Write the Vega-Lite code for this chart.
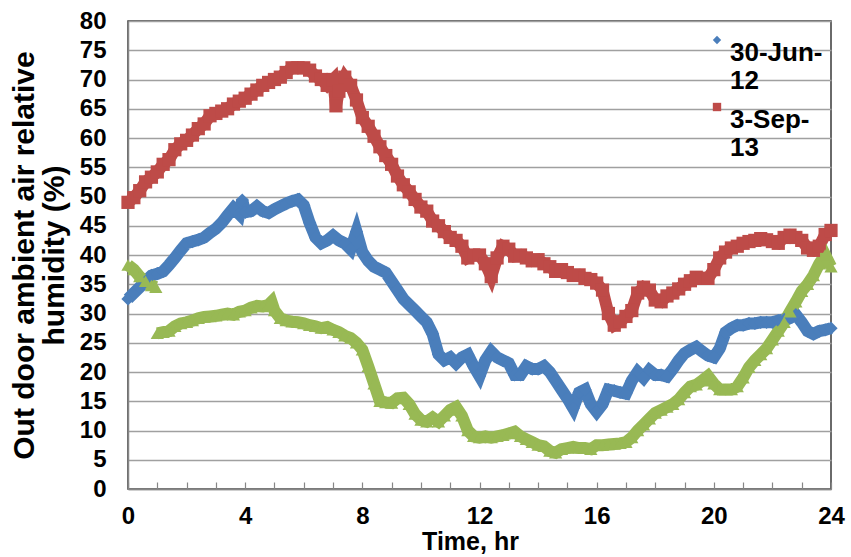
{
  "$schema": "https://vega.github.io/schema/vega-lite/v6.json",
  "autosize": {"type": "none"},
  "padding": {"left": 128, "top": 21, "right": 20, "bottom": 68},
  "width": 703,
  "height": 468,
  "background": "white",
  "config": {
    "font": "Liberation Sans",
    "view": {"stroke": "#3a3a3a", "strokeWidth": 1.5},
    "legend": {"rowPadding": -10}
  },
  "datasets": {
    "rh": [
      {"s":"S","t":0.0,"rh":49.0},{"s":"S","t":0.2,"rh":49.8},{"s":"S","t":0.4,"rh":51.0},{"s":"S","t":0.6,"rh":52.5},{"s":"S","t":0.8,"rh":53.3},
      {"s":"S","t":1.0,"rh":54.2},{"s":"S","t":1.2,"rh":55.5},{"s":"S","t":1.4,"rh":56.3},{"s":"S","t":1.6,"rh":58.0},{"s":"S","t":1.8,"rh":59.0},
      {"s":"S","t":2.0,"rh":59.6},{"s":"S","t":2.2,"rh":60.5},{"s":"S","t":2.4,"rh":61.6},{"s":"S","t":2.6,"rh":62.4},{"s":"S","t":2.8,"rh":63.8},
      {"s":"S","t":3.0,"rh":64.2},{"s":"S","t":3.2,"rh":64.6},{"s":"S","t":3.4,"rh":65.0},{"s":"S","t":3.6,"rh":65.8},{"s":"S","t":3.8,"rh":66.3},
      {"s":"S","t":4.0,"rh":66.8},{"s":"S","t":4.2,"rh":67.5},{"s":"S","t":4.4,"rh":68.2},{"s":"S","t":4.6,"rh":69.0},{"s":"S","t":4.8,"rh":69.5},
      {"s":"S","t":5.0,"rh":70.0},{"s":"S","t":5.2,"rh":70.4},{"s":"S","t":5.4,"rh":71.2},{"s":"S","t":5.6,"rh":72.0},{"s":"S","t":5.8,"rh":72.0},
      {"s":"S","t":6.0,"rh":72.0},{"s":"S","t":6.2,"rh":71.6},{"s":"S","t":6.4,"rh":70.6},{"s":"S","t":6.6,"rh":70.0},{"s":"S","t":6.8,"rh":69.0},
      {"s":"S","t":7.0,"rh":70.0},{"s":"S","t":7.1,"rh":65.5},{"s":"S","t":7.2,"rh":68.0},{"s":"S","t":7.4,"rh":70.4},{"s":"S","t":7.6,"rh":69.0},{"s":"S","t":7.8,"rh":66.5},
      {"s":"S","t":8.0,"rh":63.5},{"s":"S","t":8.2,"rh":62.0},{"s":"S","t":8.4,"rh":60.3},{"s":"S","t":8.6,"rh":58.5},{"s":"S","t":8.8,"rh":57.0},
      {"s":"S","t":9.0,"rh":55.5},{"s":"S","t":9.2,"rh":53.5},{"s":"S","t":9.4,"rh":52.0},{"s":"S","t":9.6,"rh":50.8},{"s":"S","t":9.8,"rh":49.5},
      {"s":"S","t":10.0,"rh":48.2},{"s":"S","t":10.2,"rh":47.5},{"s":"S","t":10.4,"rh":45.8},{"s":"S","t":10.6,"rh":45.0},{"s":"S","t":10.8,"rh":44.0},
      {"s":"S","t":11.0,"rh":43.0},{"s":"S","t":11.2,"rh":42.5},{"s":"S","t":11.4,"rh":41.5},{"s":"S","t":11.6,"rh":39.5},{"s":"S","t":11.8,"rh":40.0},
      {"s":"S","t":12.0,"rh":40.0},{"s":"S","t":12.2,"rh":38.5},{"s":"S","t":12.4,"rh":36.3},{"s":"S","t":12.6,"rh":39.5},{"s":"S","t":12.8,"rh":41.5},
      {"s":"S","t":13.0,"rh":41.0},{"s":"S","t":13.2,"rh":39.8},{"s":"S","t":13.4,"rh":40.0},{"s":"S","t":13.6,"rh":39.5},{"s":"S","t":13.8,"rh":39.0},
      {"s":"S","t":14.0,"rh":39.2},{"s":"S","t":14.2,"rh":38.5},{"s":"S","t":14.4,"rh":38.0},{"s":"S","t":14.6,"rh":37.2},{"s":"S","t":14.8,"rh":37.5},
      {"s":"S","t":15.0,"rh":37.0},{"s":"S","t":15.2,"rh":36.5},{"s":"S","t":15.4,"rh":36.6},{"s":"S","t":15.6,"rh":36.0},{"s":"S","t":15.8,"rh":35.8},
      {"s":"S","t":16.0,"rh":35.2},{"s":"S","t":16.2,"rh":34.0},{"s":"S","t":16.4,"rh":30.0},{"s":"S","t":16.6,"rh":28.0},{"s":"S","t":16.8,"rh":28.6},
      {"s":"S","t":17.0,"rh":29.5},{"s":"S","t":17.2,"rh":30.5},{"s":"S","t":17.4,"rh":33.5},{"s":"S","t":17.6,"rh":34.5},{"s":"S","t":17.8,"rh":34.0},
      {"s":"S","t":18.0,"rh":32.3},{"s":"S","t":18.2,"rh":32.0},{"s":"S","t":18.4,"rh":33.0},{"s":"S","t":18.6,"rh":33.5},{"s":"S","t":18.8,"rh":34.2},
      {"s":"S","t":19.0,"rh":35.0},{"s":"S","t":19.2,"rh":35.6},{"s":"S","t":19.4,"rh":36.2},{"s":"S","t":19.6,"rh":36.0},{"s":"S","t":19.8,"rh":36.0},
      {"s":"S","t":20.0,"rh":37.5},{"s":"S","t":20.2,"rh":39.5},{"s":"S","t":20.4,"rh":40.5},{"s":"S","t":20.6,"rh":41.2},{"s":"S","t":20.8,"rh":41.5},
      {"s":"S","t":21.0,"rh":42.0},{"s":"S","t":21.2,"rh":42.3},{"s":"S","t":21.4,"rh":42.5},{"s":"S","t":21.6,"rh":42.8},{"s":"S","t":21.8,"rh":42.6},
      {"s":"S","t":22.0,"rh":42.3},{"s":"S","t":22.2,"rh":42.0},{"s":"S","t":22.4,"rh":43.0},{"s":"S","t":22.6,"rh":43.4},{"s":"S","t":22.8,"rh":43.0},
      {"s":"S","t":23.0,"rh":42.5},{"s":"S","t":23.2,"rh":41.2},{"s":"S","t":23.4,"rh":40.8},{"s":"S","t":23.6,"rh":41.5},{"s":"S","t":23.8,"rh":43.5},
      {"s":"S","t":24.0,"rh":44.2},

      {"s":"J","t":0.0,"rh":32.5},{"s":"J","t":0.2,"rh":33.5},{"s":"J","t":0.4,"rh":34.5},{"s":"J","t":0.6,"rh":35.5},{"s":"J","t":0.8,"rh":36.5},
      {"s":"J","t":1.0,"rh":36.8},{"s":"J","t":1.2,"rh":37.2},{"s":"J","t":1.4,"rh":38.3},{"s":"J","t":1.6,"rh":39.5},{"s":"J","t":1.8,"rh":40.8},
      {"s":"J","t":2.0,"rh":42.0},{"s":"J","t":2.2,"rh":42.3},{"s":"J","t":2.4,"rh":42.6},{"s":"J","t":2.6,"rh":43.0},{"s":"J","t":2.8,"rh":43.8},
      {"s":"J","t":3.0,"rh":44.5},{"s":"J","t":3.2,"rh":45.5},{"s":"J","t":3.4,"rh":46.8},{"s":"J","t":3.6,"rh":48.0},{"s":"J","t":3.8,"rh":47.0},
      {"s":"J","t":3.9,"rh":49.4},{"s":"J","t":4.0,"rh":47.3},{"s":"J","t":4.2,"rh":47.5},{"s":"J","t":4.4,"rh":48.3},{"s":"J","t":4.6,"rh":47.5},{"s":"J","t":4.8,"rh":47.2},
      {"s":"J","t":5.0,"rh":47.8},{"s":"J","t":5.2,"rh":48.3},{"s":"J","t":5.4,"rh":48.8},{"s":"J","t":5.6,"rh":49.2},{"s":"J","t":5.8,"rh":49.5},
      {"s":"J","t":6.0,"rh":48.5},{"s":"J","t":6.2,"rh":45.5},{"s":"J","t":6.4,"rh":43.0},{"s":"J","t":6.6,"rh":42.0},{"s":"J","t":6.8,"rh":42.5},
      {"s":"J","t":7.0,"rh":43.3},{"s":"J","t":7.2,"rh":42.5},{"s":"J","t":7.4,"rh":42.0},{"s":"J","t":7.6,"rh":41.0},{"s":"J","t":7.8,"rh":44.0},
      {"s":"J","t":8.0,"rh":40.5},{"s":"J","t":8.2,"rh":39.0},{"s":"J","t":8.4,"rh":38.0},{"s":"J","t":8.6,"rh":37.5},{"s":"J","t":8.8,"rh":37.0},
      {"s":"J","t":9.0,"rh":35.5},{"s":"J","t":9.2,"rh":34.0},{"s":"J","t":9.4,"rh":32.5},{"s":"J","t":9.6,"rh":31.5},{"s":"J","t":9.8,"rh":30.5},
      {"s":"J","t":10.0,"rh":29.5},{"s":"J","t":10.2,"rh":28.5},{"s":"J","t":10.4,"rh":26.5},{"s":"J","t":10.6,"rh":23.0},{"s":"J","t":10.8,"rh":22.0},
      {"s":"J","t":11.0,"rh":22.5},{"s":"J","t":11.2,"rh":21.5},{"s":"J","t":11.4,"rh":22.5},{"s":"J","t":11.6,"rh":23.0},{"s":"J","t":11.8,"rh":21.0},
      {"s":"J","t":12.0,"rh":19.3},{"s":"J","t":12.2,"rh":22.0},{"s":"J","t":12.4,"rh":23.5},{"s":"J","t":12.6,"rh":22.5},{"s":"J","t":12.8,"rh":22.0},
      {"s":"J","t":13.0,"rh":21.5},{"s":"J","t":13.2,"rh":19.5},{"s":"J","t":13.4,"rh":19.5},{"s":"J","t":13.6,"rh":21.0},{"s":"J","t":13.8,"rh":20.5},
      {"s":"J","t":14.0,"rh":20.5},{"s":"J","t":14.2,"rh":21.0},{"s":"J","t":14.4,"rh":20.0},{"s":"J","t":14.6,"rh":18.5},{"s":"J","t":14.8,"rh":17.0},
      {"s":"J","t":15.0,"rh":15.5},{"s":"J","t":15.2,"rh":13.8},{"s":"J","t":15.4,"rh":16.5},{"s":"J","t":15.6,"rh":17.0},{"s":"J","t":15.8,"rh":14.5},
      {"s":"J","t":16.0,"rh":13.2},{"s":"J","t":16.2,"rh":14.5},{"s":"J","t":16.4,"rh":17.0},{"s":"J","t":16.6,"rh":16.8},{"s":"J","t":16.8,"rh":16.5},
      {"s":"J","t":17.0,"rh":16.3},{"s":"J","t":17.2,"rh":18.5},{"s":"J","t":17.4,"rh":20.0},{"s":"J","t":17.6,"rh":19.0},{"s":"J","t":17.8,"rh":20.3},
      {"s":"J","t":18.0,"rh":19.5},{"s":"J","t":18.2,"rh":19.5},{"s":"J","t":18.4,"rh":19.2},{"s":"J","t":18.6,"rh":20.5},{"s":"J","t":18.8,"rh":22.0},
      {"s":"J","t":19.0,"rh":23.2},{"s":"J","t":19.2,"rh":23.8},{"s":"J","t":19.4,"rh":24.3},{"s":"J","t":19.6,"rh":23.5},{"s":"J","t":19.8,"rh":22.8},
      {"s":"J","t":20.0,"rh":22.5},{"s":"J","t":20.2,"rh":24.0},{"s":"J","t":20.4,"rh":26.8},{"s":"J","t":20.6,"rh":27.5},{"s":"J","t":20.8,"rh":28.0},
      {"s":"J","t":21.0,"rh":28.0},{"s":"J","t":21.2,"rh":28.3},{"s":"J","t":21.4,"rh":28.3},{"s":"J","t":21.6,"rh":28.5},{"s":"J","t":21.8,"rh":28.5},
      {"s":"J","t":22.0,"rh":28.5},{"s":"J","t":22.2,"rh":28.8},{"s":"J","t":22.4,"rh":29.0},{"s":"J","t":22.6,"rh":29.2},{"s":"J","t":22.8,"rh":29.8},
      {"s":"J","t":23.0,"rh":28.5},{"s":"J","t":23.2,"rh":27.0},{"s":"J","t":23.4,"rh":26.5},{"s":"J","t":23.6,"rh":27.0},{"s":"J","t":23.8,"rh":27.2},
      {"s":"J","t":24.0,"rh":27.5},

      {"s":"G","g":"a","t":0.0,"rh":38.3},{"s":"G","g":"a","t":0.2,"rh":37.5},{"s":"G","g":"a","t":0.4,"rh":36.3},{"s":"G","g":"a","t":0.6,"rh":35.5},{"s":"G","g":"a","t":0.8,"rh":34.8},{"s":"G","g":"a","t":0.95,"rh":34.5},
      {"s":"G","g":"b","t":1.0,"rh":26.6},{"s":"G","g":"b","t":1.2,"rh":26.8},{"s":"G","g":"b","t":1.4,"rh":27.0},{"s":"G","g":"b","t":1.6,"rh":27.8},{"s":"G","g":"b","t":1.8,"rh":28.3},
      {"s":"G","g":"b","t":2.0,"rh":28.5},{"s":"G","g":"b","t":2.2,"rh":28.8},{"s":"G","g":"b","t":2.4,"rh":29.2},{"s":"G","g":"b","t":2.6,"rh":29.4},{"s":"G","g":"b","t":2.8,"rh":29.5},
      {"s":"G","g":"b","t":3.0,"rh":29.6},{"s":"G","g":"b","t":3.2,"rh":29.8},{"s":"G","g":"b","t":3.4,"rh":30.0},{"s":"G","g":"b","t":3.6,"rh":29.8},{"s":"G","g":"b","t":3.8,"rh":30.3},
      {"s":"G","g":"b","t":4.0,"rh":30.5},{"s":"G","g":"b","t":4.2,"rh":31.0},{"s":"G","g":"b","t":4.4,"rh":31.3},{"s":"G","g":"b","t":4.6,"rh":31.2},{"s":"G","g":"b","t":4.8,"rh":31.5},
      {"s":"G","g":"b","t":4.9,"rh":32.0},{"s":"G","g":"b","t":5.0,"rh":30.5},{"s":"G","g":"b","t":5.2,"rh":29.2},{"s":"G","g":"b","t":5.4,"rh":28.8},{"s":"G","g":"b","t":5.6,"rh":28.6},{"s":"G","g":"b","t":5.8,"rh":28.5},
      {"s":"G","g":"b","t":6.0,"rh":28.3},{"s":"G","g":"b","t":6.2,"rh":28.0},{"s":"G","g":"b","t":6.4,"rh":27.8},{"s":"G","g":"b","t":6.6,"rh":27.5},{"s":"G","g":"b","t":6.8,"rh":27.7},
      {"s":"G","g":"b","t":7.0,"rh":27.2},{"s":"G","g":"b","t":7.2,"rh":26.8},{"s":"G","g":"b","t":7.4,"rh":26.2},{"s":"G","g":"b","t":7.6,"rh":25.8},{"s":"G","g":"b","t":7.8,"rh":25.0},
      {"s":"G","g":"b","t":8.0,"rh":23.8},{"s":"G","g":"b","t":8.2,"rh":21.0},{"s":"G","g":"b","t":8.4,"rh":18.0},{"s":"G","g":"b","t":8.6,"rh":15.0},{"s":"G","g":"b","t":8.8,"rh":14.8},
      {"s":"G","g":"b","t":9.0,"rh":14.7},{"s":"G","g":"b","t":9.2,"rh":15.5},{"s":"G","g":"b","t":9.4,"rh":15.6},{"s":"G","g":"b","t":9.6,"rh":14.5},{"s":"G","g":"b","t":9.8,"rh":12.8},
      {"s":"G","g":"b","t":10.0,"rh":11.8},{"s":"G","g":"b","t":10.2,"rh":11.5},{"s":"G","g":"b","t":10.4,"rh":12.2},{"s":"G","g":"b","t":10.6,"rh":11.5},{"s":"G","g":"b","t":10.8,"rh":12.5},
      {"s":"G","g":"b","t":11.0,"rh":13.5},{"s":"G","g":"b","t":11.2,"rh":14.0},{"s":"G","g":"b","t":11.4,"rh":12.5},{"s":"G","g":"b","t":11.6,"rh":10.0},{"s":"G","g":"b","t":11.8,"rh":9.0},
      {"s":"G","g":"b","t":12.0,"rh":8.8},{"s":"G","g":"b","t":12.2,"rh":9.0},{"s":"G","g":"b","t":12.4,"rh":8.8},{"s":"G","g":"b","t":12.6,"rh":9.0},{"s":"G","g":"b","t":12.8,"rh":9.2},
      {"s":"G","g":"b","t":13.0,"rh":9.5},{"s":"G","g":"b","t":13.2,"rh":9.8},{"s":"G","g":"b","t":13.4,"rh":9.0},{"s":"G","g":"b","t":13.6,"rh":8.5},{"s":"G","g":"b","t":13.8,"rh":8.0},
      {"s":"G","g":"b","t":14.0,"rh":7.5},{"s":"G","g":"b","t":14.2,"rh":7.3},{"s":"G","g":"b","t":14.4,"rh":6.5},{"s":"G","g":"b","t":14.6,"rh":6.2},{"s":"G","g":"b","t":14.8,"rh":6.8},
      {"s":"G","g":"b","t":15.0,"rh":7.0},{"s":"G","g":"b","t":15.2,"rh":7.2},{"s":"G","g":"b","t":15.4,"rh":7.0},{"s":"G","g":"b","t":15.6,"rh":7.0},{"s":"G","g":"b","t":15.8,"rh":6.8},
      {"s":"G","g":"b","t":16.0,"rh":7.5},{"s":"G","g":"b","t":16.2,"rh":7.5},{"s":"G","g":"b","t":16.4,"rh":7.6},{"s":"G","g":"b","t":16.6,"rh":7.7},{"s":"G","g":"b","t":16.8,"rh":7.8},
      {"s":"G","g":"b","t":17.0,"rh":8.0},{"s":"G","g":"b","t":17.2,"rh":8.8},{"s":"G","g":"b","t":17.4,"rh":10.0},{"s":"G","g":"b","t":17.6,"rh":11.0},{"s":"G","g":"b","t":17.8,"rh":12.0},
      {"s":"G","g":"b","t":18.0,"rh":13.0},{"s":"G","g":"b","t":18.2,"rh":13.5},{"s":"G","g":"b","t":18.4,"rh":14.0},{"s":"G","g":"b","t":18.6,"rh":14.5},{"s":"G","g":"b","t":18.8,"rh":15.3},
      {"s":"G","g":"b","t":19.0,"rh":16.5},{"s":"G","g":"b","t":19.2,"rh":17.5},{"s":"G","g":"b","t":19.4,"rh":17.8},{"s":"G","g":"b","t":19.6,"rh":18.5},{"s":"G","g":"b","t":19.8,"rh":19.3},
      {"s":"G","g":"b","t":20.0,"rh":18.0},{"s":"G","g":"b","t":20.2,"rh":17.0},{"s":"G","g":"b","t":20.4,"rh":17.0},{"s":"G","g":"b","t":20.6,"rh":17.0},{"s":"G","g":"b","t":20.8,"rh":17.5},
      {"s":"G","g":"b","t":21.0,"rh":19.0},{"s":"G","g":"b","t":21.2,"rh":20.8},{"s":"G","g":"b","t":21.4,"rh":22.0},{"s":"G","g":"b","t":21.6,"rh":23.0},{"s":"G","g":"b","t":21.8,"rh":24.0},
      {"s":"G","g":"b","t":22.0,"rh":25.5},{"s":"G","g":"b","t":22.2,"rh":27.0},{"s":"G","g":"b","t":22.4,"rh":28.5},{"s":"G","g":"b","t":22.6,"rh":30.3},{"s":"G","g":"b","t":22.8,"rh":32.0},
      {"s":"G","g":"b","t":23.0,"rh":33.8},{"s":"G","g":"b","t":23.2,"rh":35.0},{"s":"G","g":"b","t":23.4,"rh":36.5},{"s":"G","g":"b","t":23.6,"rh":38.5},{"s":"G","g":"b","t":23.8,"rh":40.0},
      {"s":"G","g":"b","t":24.0,"rh":38.0}
    ]
  },
  "data": {"name": "rh"},
  "encoding": {
    "x": {
      "field": "t", "type": "quantitative",
      "scale": {"domain": [0, 24], "nice": false},
      "axis": {
        "title": "Time, hr",
        "values": [0,1,2,3,4,5,6,7,8,9,10,11,12,13,14,15,16,17,18,19,20,21,22,23,24],
        "labelExpr": "datum.value % 4 == 0 ? datum.label : ''",
        "grid": false,
        "domainColor": "#868686", "domainWidth": 1.5,
        "tickColor": "#868686", "tickWidth": 1.2, "tickSize": -7,
        "labelFont": "Liberation Sans", "labelFontWeight": "bold", "labelFontSize": 24, "labelColor": "#000000",
        "labelPadding": 22, "labelFlush": false, "labelOverlap": false,
        "titleFont": "Liberation Sans", "titleFontWeight": "bold", "titleFontSize": 25, "titleColor": "#000000",
        "titleX": 342, "titlePadding": 1
      }
    },
    "y": {
      "field": "rh", "type": "quantitative",
      "scale": {"domain": [0, 80], "nice": false},
      "axis": {
        "title": ["Out door ambient air relative", "humidity (%)"],
        "values": [0,5,10,15,20,25,30,35,40,45,50,55,60,65,70,75,80],
        "grid": true, "gridColor": "#a0a0a0", "gridWidth": 1.5,
        "domainColor": "#868686", "domainWidth": 1.5,
        "ticks": false,
        "labelFont": "Liberation Sans", "labelFontWeight": "bold", "labelFontSize": 24, "labelColor": "#000000",
        "labelPadding": 22, "labelOverlap": false,
        "titleFont": "Liberation Sans", "titleFontWeight": "bold", "titleFontSize": 30, "titleColor": "#000000",
        "titleLineHeight": 30, "titlePadding": 10
      }
    },
    "color": {
      "field": "s", "type": "nominal",
      "scale": {"domain": ["J", "S", "G"], "range": ["#4a7ebb", "#be4b48", "#98b954"]},
      "legend": {
        "values": ["J", "S"],
        "orient": "none", "legendX": 576, "legendY": 6,
        "title": null,
        "labelExpr": "datum.value == 'J' ? ['30-Jun-', '12'] : ['3-Sep-', '13']",
        "labelFont": "Liberation Sans", "labelFontWeight": "bold", "labelFontSize": 26, "labelColor": "#000000",
        "labelLineHeight": 24, "labelBaseline": "top", "labelOffset": 0,
        "symbolSize": 70, "symbolStrokeWidth": 0, "rowPadding": -10
      }
    },
    "shape": {
      "field": "s", "type": "nominal",
      "scale": {"domain": ["J", "S", "G"], "range": ["diamond", "square", "triangle-up"]}
    }
  },
  "layer": [
    {
      "mark": {"type": "line", "strokeWidth": 12},
      "encoding": {"detail": {"field": "g"}, "shape": null}
    },
    {
      "mark": {"type": "point", "filled": true, "opacity": 1, "size": 175}
    }
  ]
}
